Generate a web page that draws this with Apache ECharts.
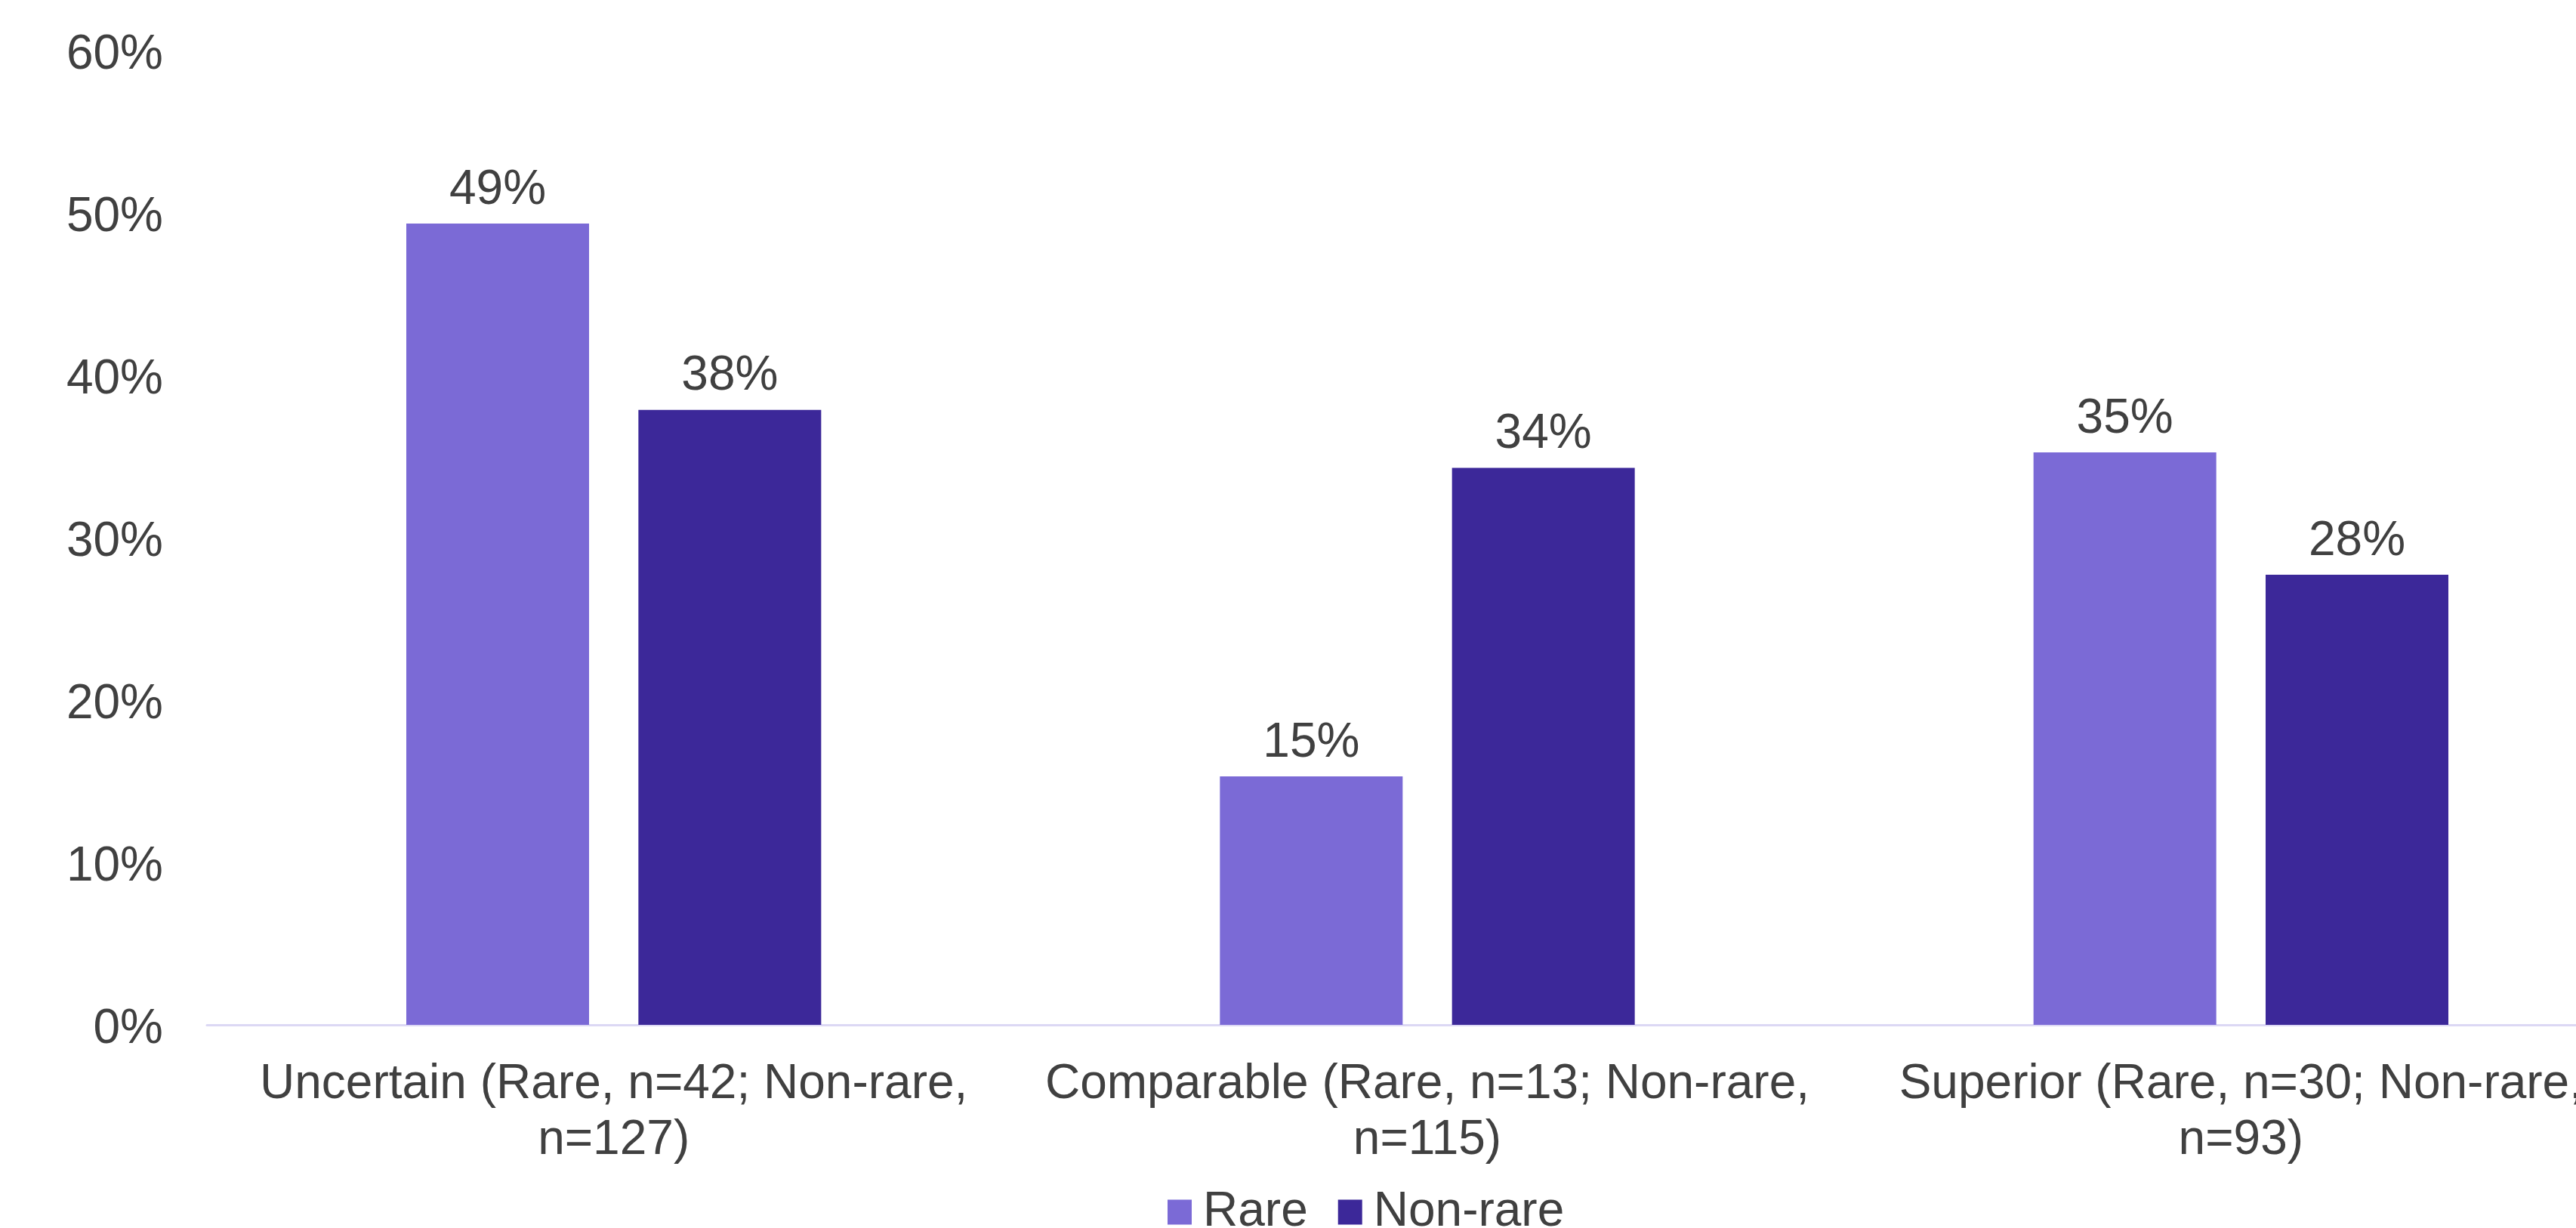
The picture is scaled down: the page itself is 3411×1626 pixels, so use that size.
<!DOCTYPE html>
<html>
<head>
<meta charset="utf-8">
<script src="https://cdn.jsdelivr.net/npm/echarts@6/dist/echarts.min.js"></script>
<style>
html,body{margin:0;padding:0;background:#fff;overflow:hidden;}
#chart{width:3411px;height:1626px;}
</style>
</head>
<body>
<div id="chart"></div>
<script>
const categories = [
  'Uncertain (Rare, n=42; Non-rare,\nn=127)',
  'Comparable (Rare, n=13; Non-rare,\nn=115)',
  'Superior (Rare, n=30; Non-rare,\nn=93)'
];
const seriesNames = ['Rare', 'Non-rare'];
const rareValues = [49.35, 15.3, 35.26];
const nonRareValues = [37.87, 34.3, 27.72];
const yMin = 0, yMax = 60, yStep = 10;

const textColor = '#404040';
const fontFamily = '"Liberation Sans", Arial, sans-serif';
const fs = 64;

const chart = echarts.init(document.getElementById('chart'), null, {renderer: 'canvas'});
const labelCfg = {
  show: true,
  position: 'top',
  distance: 12,
  color: textColor,
  fontSize: fs,
  fontFamily: fontFamily,
  formatter: p => Math.round(p.value) + '%'
};
chart.setOption({
  animation: false,
  backgroundColor: '#ffffff',
  textStyle: {fontFamily: fontFamily},
  grid: {
    left: 274, top: 67, width: 3232, height: 1290, containLabel: false,
    outerBounds: {left: -400, top: -400, right: -600, bottom: -400}
  },
  legend: {
    data: seriesNames,
    left: 1541,
    top: 1568,
    itemWidth: 32,
    itemHeight: 33,
    itemGap: 40,
    icon: 'rect',
    textStyle: {color: textColor, fontSize: fs, fontFamily: fontFamily, padding: [0, 0, 0, 10]}
  },
  xAxis: {
    type: 'category',
    data: categories,
    axisLine: {show: true, lineStyle: {color: '#DCD8F4', width: 3}},
    axisTick: {show: false},
    axisLabel: {
      color: textColor, fontSize: fs, fontFamily: fontFamily,
      lineHeight: 74, margin: 42, interval: 0
    }
  },
  yAxis: {
    type: 'value',
    min: yMin, max: yMax, interval: yStep,
    axisLine: {show: false},
    axisTick: {show: false},
    splitLine: {show: false},
    axisLabel: {
      color: textColor, fontSize: fs, fontFamily: fontFamily,
      margin: 58, formatter: '{value}%', verticalAlign: 'top', padding: [-26, 0, 0, 0]
    }
  },
  series: [
    {
      name: seriesNames[0], type: 'bar', data: rareValues,
      barWidth: 242, barGap: '27%',
      itemStyle: {color: '#7B6AD6'},
      label: labelCfg
    },
    {
      name: seriesNames[1], type: 'bar', data: nonRareValues,
      barWidth: 242, barGap: '27%',
      itemStyle: {color: '#3C2899'},
      label: labelCfg
    }
  ]
});
</script>
</body>
</html>
